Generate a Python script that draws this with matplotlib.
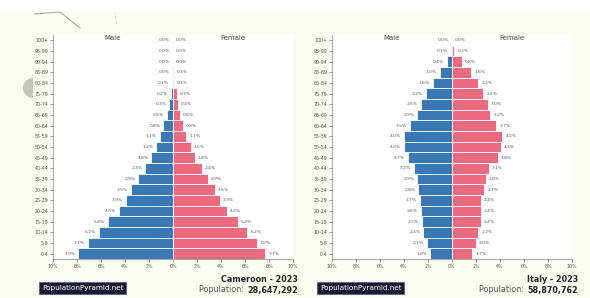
import matplotlib
matplotlib.use("Agg")
import matplotlib.pyplot as plt
from matplotlib.patches import Rectangle, Wedge
import numpy as np

ages = ["0-4", "5-9", "10-14", "15-19", "20-24", "25-29", "30-34", "35-39", "40-44",
        "45-49", "50-54", "55-59", "60-64", "65-69", "70-74", "75-79", "80-84",
        "85-89", "90-94", "95-99", "100+"]

cam_male = [7.9, 7.1, 6.2, 5.4, 4.5, 3.9, 3.5, 2.9, 2.3, 1.8, 1.4, 1.1, 0.8, 0.5, 0.3, 0.2, 0.1, 0.0, 0.0, 0.0, 0.0]
cam_female = [7.7, 7.0, 6.2, 5.4, 4.5, 3.9, 3.5, 2.9, 2.4, 1.8, 1.5, 1.1, 0.8, 0.6, 0.4, 0.3, 0.1, 0.1, 0.0, 0.0, 0.0]
ita_male = [1.8, 2.1, 2.4, 2.5, 2.6, 2.7, 2.8, 2.9, 3.2, 3.7, 4.0, 4.0, 3.5, 2.9, 2.6, 2.2, 1.6, 1.0, 0.4, 0.1, 0.0]
ita_female = [1.7, 2.0, 2.2, 2.4, 2.4, 2.4, 2.7, 2.8, 3.1, 3.8, 4.1, 4.2, 3.7, 3.2, 3.0, 2.6, 2.2, 1.6, 0.8, 0.2, 0.0]

xticks = [-10, -8, -6, -4, -2, 0, 2, 4, 6, 8, 10]
xticklabels = ["10%", "8%", "6%", "4%", "2%", "0%", "2%", "4%", "6%", "8%", "10%"]

titles = ["Cameroon - 2023", "Italy - 2023"]
populations = ["28,647,292", "58,870,762"]

MALE = "#3b78b6"
FEMALE = "#ec6b81"
BG = "#fafcef"

W, H = 590, 298
fig = plt.figure(figsize=(W / 100, H / 100), dpi=100)
fig.patch.set_facecolor(BG)

# white strip at top of screenshot
fig.patches.append(Rectangle((0, 1 - 12 / H), 1, 12 / H, transform=fig.transFigure,
                             facecolor="white", edgecolor="none", zorder=0))
# decorative artifacts
fig.add_artist(plt.Line2D([35 / W, 60 / W, 80 / W], [1 - 14 / H, 1 - 12 / H, 1 - 28 / H],
                          transform=fig.transFigure, color="#aaaaaa", lw=0.8))
fig.add_artist(plt.Line2D([115 / W, 117 / W], [1 - 14 / H, 1 - 25 / H],
                          transform=fig.transFigure, color="#bbbbbb", lw=0.6, ls=":"))
fig.patches.append(Wedge((0.33, (H - 88) / 100), 0.10, 90, 270, transform=fig.dpi_scale_trans,
                         facecolor="#c4c4bc", edgecolor="none"))

def fmt(v):
    return f"{v:.1f}%"

panels = [(53, cam_male, cam_female), (332, ita_male, ita_female)]
y = np.arange(len(ages))
for i, (x0, male, female) in enumerate(panels):
    ax = fig.add_axes([x0 / W, 1 - 259 / H, 240 / W, 224 / H])
    ax.set_facecolor("white")
    ax.barh(y, [-m for m in male], height=1.0, color=MALE, edgecolor="white", linewidth=0.6)
    ax.barh(y, female, height=1.0, color=FEMALE, edgecolor="white", linewidth=0.6)
    for yy, m, f in zip(y, male, female):
        ax.text(-m - 0.25, yy, fmt(m), ha="right", va="center", fontsize=3.2, color="#555555")
        ax.text(f + 0.25, yy, fmt(f), ha="left", va="center", fontsize=3.2, color="#555555")
    ax.set_xlim(-10, 10)
    ax.set_ylim(-0.5, len(ages) - 0.5)
    ax.set_yticks(y)
    ax.set_yticklabels(ages, fontsize=3.4, color="#555555")
    ax.set_xticks(xticks)
    ax.set_xticklabels(xticklabels, fontsize=3.4, color="#555555")
    ax.tick_params(axis="both", length=2, width=0.5, pad=1.5, colors="#777777", labelcolor="#555555")
    for s in ["top", "right"]:
        ax.spines[s].set_visible(False)
    for s in ["left", "bottom"]:
        ax.spines[s].set_linewidth(0.5)
        ax.spines[s].set_color("#888888")
    ax.text(0.25, 0.985, "Male", transform=ax.transAxes, ha="center", va="center",
            fontsize=5, color="#444444")
    ax.text(0.75, 0.985, "Female", transform=ax.transAxes, ha="center", va="center",
            fontsize=5, color="#444444")

    # watermark box
    bx = (40 if i == 0 else 318) / W
    fig.text(bx + 2 / W, 1 - 288 / H, "PopulationPyramid.net", fontsize=5.2, color="white",
             ha="left", va="center",
             bbox=dict(boxstyle="square,pad=0.35", facecolor="#1a1a33", edgecolor="#555577", lw=0.5))
    rx = (298 if i == 0 else 578) / W
    fig.text(rx, 1 - 279 / H, titles[i], fontsize=5.8, fontweight="bold", color="#222222",
             ha="right", va="center")
    t = fig.text(rx, 1 - 290 / H, populations[i], fontsize=5.8, fontweight="bold", color="#222222",
                 ha="right", va="center")
    fig.canvas.draw()
    bb = t.get_window_extent()
    fig.text(bb.x0 / W - 1 / W, 1 - 290 / H, "Population: ", fontsize=5.8, color="#555555",
             ha="right", va="center")

fig.savefig("out.png", dpi=100, facecolor=fig.get_facecolor())
